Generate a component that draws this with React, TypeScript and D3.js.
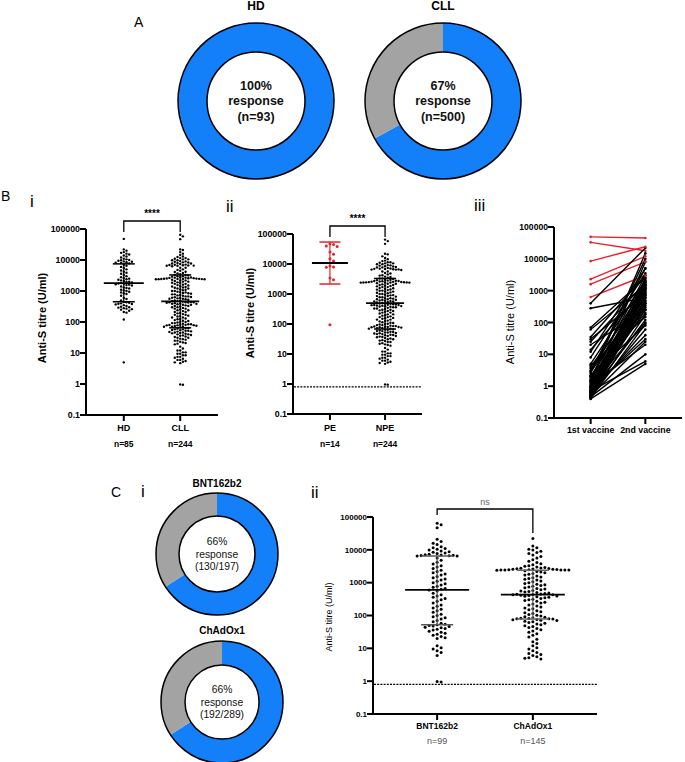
import React from "react";
import * as d3 from "d3";

// anti-S titres (U/ml)
const hdTitres = [48000, 22000, 20000, 18000, 17000, 16000, 15000, 14000, 13000, 12000, 11000, 10500, 10000, 9800, 9500, 9000, 8800, 8500, 8200, 8000, 7800,
  7000, 6500, 6000, 5500, 5000, 4600, 4200, 3900, 3600, 3300, 3000, 2800, 2600, 2500, 2400, 2300, 2200, 2100, 2000, 1950, 1900, 1800,
  1750, 1700, 1650, 1600, 1550, 1500, 1400, 1300, 1250, 1200, 1100, 1050, 1000, 950, 900, 850, 800, 700, 600, 550, 500,
  440, 430, 420, 400, 390, 380, 370, 350, 330, 310, 300, 290, 280, 270, 260, 250, 230, 210, 200, 120, 5];

const bntTitres = [65000, 58000, 47000, 21000, 18000, 16000, 14500, 12500, 11500, 11000, 10500, 9800, 9200, 8800, 8400, 8000, 7700, 7400, 7100, 6900, 6800, 6700, 6600, 6500, 6500,
  5600, 4800, 4200, 3700, 3300, 3000, 2700, 2400, 2200, 2000, 1850, 1700, 1550, 1400, 1300, 1200, 1100, 1000, 920, 850, 780, 720, 670, 630, 600,
  560, 480, 430, 390, 360, 330, 300, 270, 240, 210, 190, 170, 155, 140, 125, 110, 100, 92, 85, 78, 70, 64, 58, 54,
  52, 50, 48, 46, 44, 42, 40, 38, 36, 33, 31, 29, 27, 25, 23, 21, 20, 12, 10.5, 9.5, 8.5, 7.5, 6, 0.97, 0.95];

const chadTitres = [22000, 13000, 11500, 10500, 9800, 9000, 8300, 7700, 7000, 6300, 5600, 5000, 4500, 4100, 3800, 3500, 3300, 3150, 3000, 2900, 2800, 2750, 2700, 2650, 2600, 2570, 2540, 2510, 2490, 2470, 2450, 2440, 2430, 2420, 2410, 2400,
  2300, 2200, 2100, 2000, 1900, 1800, 1700, 1600, 1500, 1420, 1350, 1280, 1200, 1130, 1060, 1000, 950, 900, 860, 820, 780, 740, 700, 670, 640, 610, 580, 560, 540, 520, 500, 485, 470, 455, 445, 435,
  430,
  425, 415, 405, 395, 385, 375, 360, 345, 330, 315, 300, 285, 270, 255, 240, 225, 210, 195, 180, 170, 160, 150, 140, 130, 122, 115, 108, 102, 96, 92, 88, 85, 83, 81, 80, 79,
  78, 76, 74, 72, 70, 67, 64, 61, 58, 55, 52, 49, 46, 43, 40, 37, 34, 31, 28, 25, 22, 19, 16, 14, 12, 10.5, 9.5, 8.5, 7.5, 7, 6.5, 6, 5.5, 5.2, 5, 4.7];

const cllTitres = [...bntTitres, ...chadTitres];
const peTitres = [47000, 45000, 40000, 38000, 25000, 21000, 15000, 12500, 8600, 8000, 7800, 3400, 3000, 95];

// [low, median, high]
const hdStats = [450, 1800, 7500];
const cllStats = [65, 460, 3300];
const peStats = [2150, 10800, 54000];
const npeStats = [68, 500, 3300];
const bntStats = [52, 600, 6500];
const chadStats = [78, 430, 2400];

// [1st vaccine, 2nd vaccine]
const redPairs = [[49000, 45000], [33000, 18000], [8500, 24000], [2300, 12000], [1600, 8000], [630, 3000]];
const blackPairs = [[400, 22000], [280, 600], [70, 2500], [60, 1500], [35, 3000], [30, 800], [25, 1800], [20, 250], [14, 1200], [12, 5000],
  [5, 2000], [4.5, 150], [4, 900], [3.5, 400], [3, 1500], [2.8, 600], [2.5, 10000], [2.2, 80], [2, 1100], [1.8, 300], [1.6, 3000],
  [1.5, 700], [1.4, 200], [1.3, 1300], [1.2, 500], [1.1, 20], [1, 2200], [1, 100], [0.95, 900], [0.9, 450], [0.85, 1600], [0.8, 30],
  [0.75, 250], [0.72, 1000], [0.7, 6], [0.68, 700], [0.65, 2500], [0.62, 120], [0.6, 400], [0.58, 1800], [0.55, 60], [0.52, 800],
  [0.5, 25], [0.5, 350], [0.48, 1200], [0.46, 10], [0.45, 180], [0.44, 600], [0.42, 90], [0.4, 5], [0.4, 2000], [0.9, 8000],
  [1.5, 15000], [3, 5000], [8, 3500], [0.6, 1400], [2, 250], [0.7, 40]];

const yTicks = [0.1, 1, 10, 100, 1000, 10000, 100000];
const LOD = 0.8;
const BLUE = "#1380fa";
const GREY = "#a3a3a3";
const RED = "#e8202a";
const FONT = "Arial, 'Liberation Sans', Helvetica, sans-serif";

function swarm(vals, y, cx, d) {
  const pts = vals.map(v => ({ v, py: y(v) })).sort((a, b) => a.py - b.py);
  const placed = [];
  pts.forEach(p => {
    for (let k = 0; k < 400; k++) {
      const off = (k % 2 === 1 ? 1 : -1) * Math.ceil(k / 2) * d;
      const px = cx + off;
      if (placed.every(q => Math.abs(q.py - p.py) >= d || Math.abs(q.px - px) >= d * 0.99)) {
        placed.push({ ...p, px });
        break;
      }
    }
  });
  return placed;
}

function LogAxes({ y, x, x0, x1, fs }) {
  const yb = y.range()[0];
  const yt = y.range()[1];
  return (
    <g>
      <line x1={x0} x2={x0} y1={yt} y2={yb + 1} stroke="#000" strokeWidth={2} />
      <line x1={x0 - 1} x2={x1} y1={yb} y2={yb} stroke="#000" strokeWidth={2} />
      {yTicks.map(t => (
        <g key={t}>
          <line x1={x0 - 6} x2={x0} y1={y(t)} y2={y(t)} stroke="#000" strokeWidth={2} />
          <text x={x0 - 6} y={y(t)} dy="0.35em" textAnchor="end" fontSize={fs} fontWeight="bold">{t < 1 ? "0.1" : String(t)}</text>
        </g>
      ))}
      {x.domain().map(c => (
        <line key={c} x1={x(c)} x2={x(c)} y1={yb} y2={yb + 6} stroke="#000" strokeWidth={2} />
      ))}
    </g>
  );
}

function Stats({ y, cx, stats, wMed, wBar, color, medColor }) {
  return (
    <g>
      <line x1={cx} x2={cx} y1={y(stats[0])} y2={y(stats[2])} stroke={color} strokeWidth={1.2} />
      <line x1={cx - wBar} x2={cx + wBar} y1={y(stats[0])} y2={y(stats[0])} stroke={color} strokeWidth={1.5} />
      <line x1={cx - wBar} x2={cx + wBar} y1={y(stats[2])} y2={y(stats[2])} stroke={color} strokeWidth={1.5} />
      <line x1={cx - wMed} x2={cx + wMed} y1={y(stats[1])} y2={y(stats[1])} stroke={medColor} strokeWidth={1.8} />
    </g>
  );
}

function Dots({ pts, r, fill }) {
  return <g>{pts.map((p, i) => <circle key={i} cx={p.px} cy={p.py} r={r} fill={fill} />)}</g>;
}

function YLabel({ x, y, fs, bold, children }) {
  return (
    <text transform={`translate(${x},${y}) rotate(-90)`} textAnchor="middle" dy="0.35em" fontSize={fs} fontWeight={bold ? "bold" : "normal"}>{children}</text>
  );
}

function Bracket({ x1, x2, y, l1, l2, label, fs, color, bold }) {
  return (
    <g>
      <path d={`M${x1},${y + l1}V${y}H${x2}V${y + l2}`} fill="none" stroke="#000" strokeWidth={1.3} />
      <text x={(x1 + x2) / 2} y={y - 4} textAnchor="middle" fontSize={fs} fill={color} fontWeight={bold ? "bold" : "normal"}>{label}</text>
    </g>
  );
}

function Donut({ cx, cy, r0, r1, pct, title, titleY, lines, fs, bold, lineH }) {
  const arcs = d3.pie().sort(null)([pct, 100 - pct]);
  const arc = d3.arc().innerRadius(r0).outerRadius(r1);
  return (
    <g>
      {arcs.map((a, i) => (
        <path key={i} d={arc(a)} transform={`translate(${cx},${cy})`} fill={i === 0 ? BLUE : GREY} />
      ))}
      <circle cx={cx} cy={cy} r={r1} fill="none" stroke="#000" strokeWidth={1.5} />
      <circle cx={cx} cy={cy} r={r0} fill="#fff" stroke="#000" strokeWidth={1.5} />
      <text x={cx} y={titleY} textAnchor="middle" fontSize={bold ? 12 : 10} fontWeight="bold">{title}</text>
      {lines.map((t, i) => (
        <text key={i} x={cx} y={cy + (i - 1) * lineH} dy="0.35em" textAnchor="middle" fontSize={fs} fontWeight={bold ? "bold" : "normal"} fill="#111">{t}</text>
      ))}
    </g>
  );
}

export default function App() {
  // B i
  const yBi = d3.scaleLog().domain([0.1, 100000]).range([415, 229]);
  const xBi = d3.scalePoint().domain(["HD", "CLL"]).range([86, 218]).padding(0.67);
  const hdPts = swarm(hdTitres, yBi, xBi("HD"), 2.7);
  const cllPts = swarm(cllTitres, yBi, xBi("CLL"), 2.7);

  // B ii
  const yBii = d3.scaleLog().domain([0.1, 100000]).range([414, 234]);
  const xBii = d3.scalePoint().domain(["PE", "NPE"]).range([293, 422]).padding(0.67);
  const pePts = swarm(peTitres, yBii, xBii("PE"), 3.6);
  const npePts = swarm(cllTitres, yBii, xBii("NPE"), 2.7);

  // B iii
  const yBiii = d3.scaleLog().domain([0.1, 100000]).range([418, 227]);
  const xBiii = d3.scalePoint().domain(["1st vaccine", "2nd vaccine"]).range([554, 682]).padding(0.67);

  // C ii
  const yCii = d3.scaleLog().domain([0.1, 100000]).range([714, 517]);
  const xCii = d3.scalePoint().domain(["BNT162b2", "ChAdOx1"]).range([373, 597]).padding(0.67);
  const bntPts = swarm(bntTitres, yCii, xCii("BNT162b2"), 4);
  const chadPts = swarm(chadTitres, yCii, xCii("ChAdOx1"), 4);

  const line = d3.line();

  return (
    <svg width={685} height={762} style={{ position: "absolute", left: 0, top: 0, background: "#fff" }} fontFamily={FONT}>
      {/* A */}
      <text x={134} y={27} fontSize={14}>A</text>
      <Donut cx={256} cy={101} r0={49} r1={78} pct={100} title="HD" titleY={10} lines={["100%", "response", "(n=93)"]} fs={12.5} bold lineH={15.5} />
      <Donut cx={443} cy={101} r0={49} r1={78} pct={67} title="CLL" titleY={10} lines={["67%", "response", "(n=500)"]} fs={12.5} bold lineH={15.5} />

      {/* B i */}
      <text x={1} y={201} fontSize={14}>B</text>
      <text x={30} y={207} fontSize={17}>i</text>
      <LogAxes y={yBi} x={xBi} x0={86} x1={218} fs={8.8} />
      <YLabel x={42} y={318} fs={11} bold>Anti-S titre (U/ml)</YLabel>
      <Dots pts={hdPts} r={1.2} fill="#000" />
      <Dots pts={cllPts} r={1.2} fill="#000" />
      <Stats y={yBi} cx={xBi("HD")} stats={hdStats} wMed={20} wBar={11} color="#000" medColor="#000" />
      <Stats y={yBi} cx={xBi("CLL")} stats={cllStats} wMed={19} wBar={11} color="#000" medColor="#000" />
      <Bracket x1={xBi("HD")} x2={xBi("CLL")} y={221} l1={11} l2={11} label="****" fs={10} color="#000" bold />
      {xBi.domain().map((c, i) => (
        <g key={c}>
          <text x={xBi(c)} y={431} textAnchor="middle" fontSize={9} fontWeight="bold">{c}</text>
          <text x={xBi(c)} y={447} textAnchor="middle" fontSize={8.5} fontWeight="bold">{["n=85", "n=244"][i]}</text>
        </g>
      ))}

      {/* B ii */}
      <text x={226} y={212} fontSize={17}>ii</text>
      <LogAxes y={yBii} x={xBii} x0={293} x1={422} fs={8.8} />
      <YLabel x={250} y={313} fs={11} bold>Anti-S titre (U/ml)</YLabel>
      <line x1={294} x2={422} y1={yBii(LOD)} y2={yBii(LOD)} stroke="#000" strokeWidth={1.2} strokeDasharray="2,1.2" />
      <Dots pts={npePts} r={1.2} fill="#000" />
      <Dots pts={pePts} r={1.5} fill={RED} />
      <Stats y={yBii} cx={xBii("PE")} stats={peStats} wMed={18} wBar={10.5} color={RED} medColor="#000" />
      <Stats y={yBii} cx={xBii("NPE")} stats={npeStats} wMed={19} wBar={11} color="#000" medColor="#000" />
      <Bracket x1={xBii("PE")} x2={xBii("NPE")} y={226} l1={11} l2={11} label="****" fs={10} color="#000" bold />
      {xBii.domain().map((c, i) => (
        <g key={c}>
          <text x={xBii(c)} y={431} textAnchor="middle" fontSize={9} fontWeight="bold">{c}</text>
          <text x={xBii(c)} y={447} textAnchor="middle" fontSize={8.5} fontWeight="bold">{["n=14", "n=244"][i]}</text>
        </g>
      ))}

      {/* B iii */}
      <text x={474} y={211} fontSize={17}>iii</text>
      <LogAxes y={yBiii} x={xBiii} x0={554} x1={682} fs={8.6} />
      <YLabel x={510} y={322} fs={11}>Anti-S titre (U/ml)</YLabel>
      {redPairs.map((p, i) => (
        <path key={"r" + i} d={line([[xBiii("1st vaccine"), yBiii(p[0])], [xBiii("2nd vaccine"), yBiii(p[1])]])} stroke={RED} strokeWidth={1.4} fill="none" />
      ))}
      {blackPairs.map((p, i) => (
        <g key={"b" + i}>
          <path d={line([[xBiii("1st vaccine"), yBiii(p[0])], [xBiii("2nd vaccine"), yBiii(p[1])]])} stroke="#000" strokeWidth={1.4} fill="none" />
          <circle cx={xBiii("1st vaccine")} cy={yBiii(p[0])} r={1.3} fill="#000" />
          <circle cx={xBiii("2nd vaccine")} cy={yBiii(p[1])} r={1.3} fill="#000" />
        </g>
      ))}
      {redPairs.map((p, i) => (
        <g key={"rd" + i}>
          <circle cx={xBiii("1st vaccine")} cy={yBiii(p[0])} r={1.3} fill={RED} />
          <circle cx={xBiii("2nd vaccine")} cy={yBiii(p[1])} r={1.3} fill={RED} />
        </g>
      ))}
      {xBiii.domain().map(c => (
        <text key={c} x={xBiii(c)} y={433} textAnchor="middle" fontSize={8.8} fontWeight="bold">{c}</text>
      ))}

      {/* C i */}
      <text x={111} y={497} fontSize={14}>C</text>
      <text x={141} y={497} fontSize={17}>i</text>
      <Donut cx={217} cy={554} r0={38} r1={61} pct={66} title="BNT162b2" titleY={487} lines={["66%", "response", "(130/197)"]} fs={10.3} lineH={12.5} />
      <Donut cx={222} cy={702} r0={37} r1={61} pct={66} title="ChAdOx1" titleY={634} lines={["66%", "response", "(192/289)"]} fs={10.3} lineH={12.5} />

      {/* C ii */}
      <text x={311} y={498} fontSize={17}>ii</text>
      <LogAxes y={yCii} x={xCii} x0={373} x1={597} fs={8} />
      <YLabel x={329} y={617} fs={9}>Anti-S titre (U/ml)</YLabel>
      <line x1={374} x2={597} y1={yCii(LOD)} y2={yCii(LOD)} stroke="#000" strokeWidth={1.2} strokeDasharray="2,1.2" />
      <Dots pts={bntPts} r={1.5} fill="#000" />
      <Dots pts={chadPts} r={1.5} fill="#000" />
      <Stats y={yCii} cx={xCii("BNT162b2")} stats={bntStats} wMed={32} wBar={16} color="#555" medColor="#000" />
      <Stats y={yCii} cx={xCii("ChAdOx1")} stats={chadStats} wMed={32} wBar={16} color="#666" medColor="#000" />
      <Bracket x1={xCii("BNT162b2")} x2={xCii("ChAdOx1")} y={509} l1={6} l2={24} label="ns" fs={9} color="#666" />
      {xCii.domain().map((c, i) => (
        <g key={c}>
          <text x={xCii(c)} y={729} textAnchor="middle" fontSize={8.5} fontWeight="bold">{c}</text>
          <text x={xCii(c)} y={744} textAnchor="middle" fontSize={9} fill="#555">{["n=99", "n=145"][i]}</text>
        </g>
      ))}
    </svg>
  );
}
